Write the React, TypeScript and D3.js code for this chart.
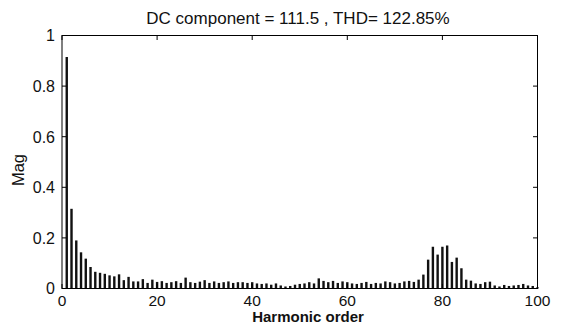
import React from "react";
import * as d3 from "d3";

// Harmonic spectrum magnitudes, orders 1..100
const harmonicOrders: number[] = Array.from({ length: 100 }, (_, i) => i + 1);
const magnitudes: number[] = [
  0.915, 0.315, 0.19, 0.143, 0.118, 0.085, 0.066, 0.062, 0.058, 0.052,
  0.048, 0.056, 0.033, 0.046, 0.028, 0.028, 0.037, 0.022, 0.035, 0.026,
  0.029, 0.022, 0.025, 0.029, 0.022, 0.043, 0.025, 0.022, 0.027, 0.033,
  0.022, 0.028, 0.022, 0.025, 0.028, 0.022, 0.025, 0.025, 0.022, 0.025,
  0.02, 0.018, 0.02, 0.015, 0.02, 0.012, 0.008, 0.01, 0.015, 0.018,
  0.02, 0.025, 0.02, 0.04, 0.03, 0.025, 0.03, 0.022, 0.028, 0.025,
  0.02, 0.018, 0.022, 0.026, 0.018, 0.022, 0.02, 0.028, 0.025, 0.02,
  0.022, 0.028, 0.03, 0.026, 0.035, 0.055, 0.114, 0.165, 0.134, 0.165,
  0.17, 0.105, 0.122, 0.08, 0.035, 0.031, 0.02, 0.018, 0.025, 0.027,
  0.012, 0.008, 0.014, 0.01, 0.012, 0.014, 0.018, 0.012, 0.01, 0.005,
];

const xTicks: number[] = [0, 20, 40, 60, 80, 100];
const yTicks: number[] = [0, 0.2, 0.4, 0.6, 0.8, 1];
const titleText = "DC component = 111.5 , THD= 122.85%";
const xLabel = "Harmonic order";
const yLabel = "Mag";

const W = 565;
const H = 324;
const left = 62;
const right = 537.5;
const top = 35.5;
const bottom = 288.5;
const font = "'Liberation Sans', Arial, Helvetica, sans-serif";

export default function App() {
  const x = d3.scaleLinear().domain([0, 100]).range([left, right]);
  const y = d3.scaleLinear().domain([0, 1]).range([bottom, top]);
  const barW = 2.4;
  const tick = 4.5;

  return (
    <svg
      width={W}
      height={H}
      style={{ position: "absolute", left: 0, top: 0, background: "#fff" }}
      fontFamily={font}
    >
      <rect x={0} y={0} width={W} height={H} fill="#fff" />
      {harmonicOrders.map((h, i) => (
        <rect
          key={h}
          x={x(h) - barW / 2}
          y={y(magnitudes[i])}
          width={barW}
          height={y(0) - y(magnitudes[i])}
          fill="#111"
        />
      ))}
      <rect
        x={left}
        y={top}
        width={right - left}
        height={bottom - top}
        fill="none"
        stroke="#000"
        strokeWidth={1}
      />
      {xTicks.map((t) => (
        <g key={"x" + t}>
          <line x1={x(t)} x2={x(t)} y1={bottom} y2={bottom - tick} stroke="#000" />
          <line x1={x(t)} x2={x(t)} y1={top} y2={top + tick} stroke="#000" />
          <text x={x(t)} y={306} textAnchor="middle" fontSize={15.5} fill="#111">
            {t}
          </text>
        </g>
      ))}
      {yTicks.map((t) => (
        <g key={"y" + t}>
          <line x1={left} x2={left + tick} y1={y(t)} y2={y(t)} stroke="#000" />
          <line x1={right} x2={right - tick} y1={y(t)} y2={y(t)} stroke="#000" />
          <text x={55} y={y(t) + 5.8} textAnchor="end" fontSize={16} fill="#111">
            {t}
          </text>
        </g>
      ))}
      <text x={298} y={23.5} textAnchor="middle" fontSize={17} fill="#111">
        {titleText}
      </text>
      <text x={308} y={322} textAnchor="middle" fontSize={15} fontWeight="bold" fill="#111">
        {xLabel}
      </text>
      <text
        transform={`translate(23.5,170) rotate(-90)`}
        textAnchor="middle"
        fontSize={16.5}
        fill="#111"
      >
        {yLabel}
      </text>
    </svg>
  );
}
